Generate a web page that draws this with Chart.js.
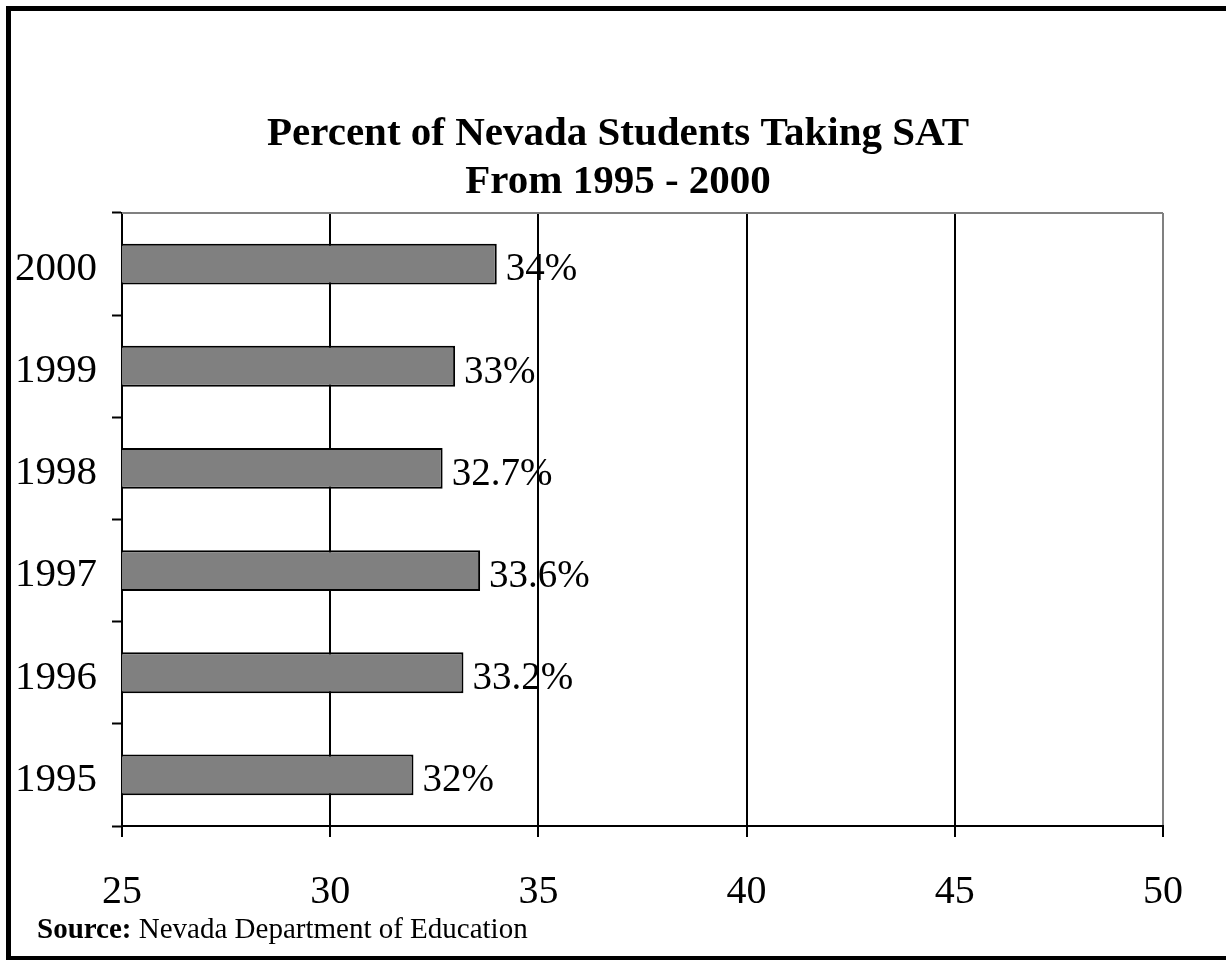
<!DOCTYPE html>
<html>
<head>
<meta charset="utf-8">
<script src="https://cdn.jsdelivr.net/npm/chart.js@4"></script>
<style>
  body { margin: 0; background: #fff; }
  canvas { display: block; }
</style>
</head>
<body>
<canvas id="chart" width="1226" height="960"></canvas>
<script>
// Years, top to bottom as shown
const years = ["2000", "1999", "1998", "1997", "1996", "1995"];
// Percent of students taking the SAT
const pctTaking = [34, 33, 32.7, 33.6, 33.2, 32];
// X axis range
const xTicks = [25, 30, 35, 40, 45, 50];
// Title lines
const titleLines = ["Percent of Nevada Students Taking SAT", "From 1995 - 2000"];

const serif = "'Liberation Serif', 'Times New Roman', serif";
const barGray = "#808080";

// Title, outer frame, gray top edge of plot, value labels and source note
const extras = {
  id: "extras",
  afterDraw(chart) {
    const { ctx, chartArea } = chart;
    ctx.save();
    // title, centred over the page rather than the plot
    ctx.font = "bold 41px " + serif;
    ctx.fillStyle = "black";
    ctx.textAlign = "center";
    ctx.textBaseline = "alphabetic";
    titleLines.forEach((line, i) => {
      ctx.fillText(line, 618, 145 + i * 48);
    });

    // gray top border of the plot area
    ctx.strokeStyle = barGray;
    ctx.lineWidth = 2;
    ctx.beginPath();
    ctx.moveTo(chartArea.left, chartArea.top);
    ctx.lineTo(chartArea.right, chartArea.top);
    ctx.stroke();

    // value labels at the end of each bar
    const meta = chart.getDatasetMeta(0);
    ctx.font = "39px " + serif;
    ctx.textAlign = "left";
    ctx.textBaseline = "middle";
    meta.data.forEach((bar, i) => {
      ctx.fillText(pctTaking[i] + "%", bar.x + 9, bar.y + 6);
    });

    // source note
    ctx.textBaseline = "alphabetic";
    ctx.font = "bold 29px " + serif;
    ctx.fillText("Source:", 37, 938);
    const w = ctx.measureText("Source: ").width;
    ctx.font = "29px " + serif;
    ctx.fillText("Nevada Department of Education", 37 + w, 938);

    // outer frame (runs off the right edge)
    ctx.strokeStyle = "black";
    ctx.lineWidth = 5;
    ctx.beginPath();
    ctx.moveTo(1230, 8.5);
    ctx.lineTo(8.5, 8.5);
    ctx.lineTo(8.5, 958.5);
    ctx.lineTo(1230, 958.5);
    ctx.stroke();
    ctx.restore();
  },
};

const config = {
  type: "bar",
  data: {
    labels: years,
    datasets: [
      {
        data: pctTaking,
        backgroundColor: barGray,
        borderColor: "black",
        borderWidth: 2,
        borderSkipped: false,
        categoryPercentage: 1,
        barPercentage: 0.4,
      },
    ],
  },
  options: {
    indexAxis: "y",
    responsive: false,
    animation: false,
    layout: { padding: { left: 0, right: 63, top: 213, bottom: 0 } },
    plugins: {
      legend: { display: false },
      tooltip: { enabled: false },
      title: { display: false },
    },
    scales: {
      x: {
        type: "linear",
        min: xTicks[0],
        max: xTicks[xTicks.length - 1],
        afterBuildTicks: (axis) => {
          axis.ticks = xTicks.map((v) => ({ value: v }));
        },
        afterFit: (axis) => {
          axis.height = 134;
        },
        ticks: {
          color: "black",
          padding: 31,
          font: { family: serif, size: 40 },
        },
        grid: {
          color: (c) => (c.tick && c.tick.value === 50 ? barGray : "black"),
          lineWidth: 2,
          tickLength: 11,
          tickColor: "black",
          tickWidth: 2,
        },
        border: { display: true, color: "black", width: 2 },
      },
      y: {
        afterFit: (axis) => {
          axis.width = 122;
        },
        ticks: {
          color: "black",
          padding: 15,
          labelOffset: 5,
          font: { family: serif, size: 41 },
        },
        grid: {
          offset: true,
          drawOnChartArea: false,
          tickLength: 10,
          tickColor: "black",
          tickWidth: 2,
        },
        border: { display: true, color: "black", width: 2 },
      },
    },
  },
  plugins: [extras],
};

const ctx = document.getElementById("chart").getContext("2d");
const myChart = new Chart(ctx, config);
</script>
</body>
</html>
